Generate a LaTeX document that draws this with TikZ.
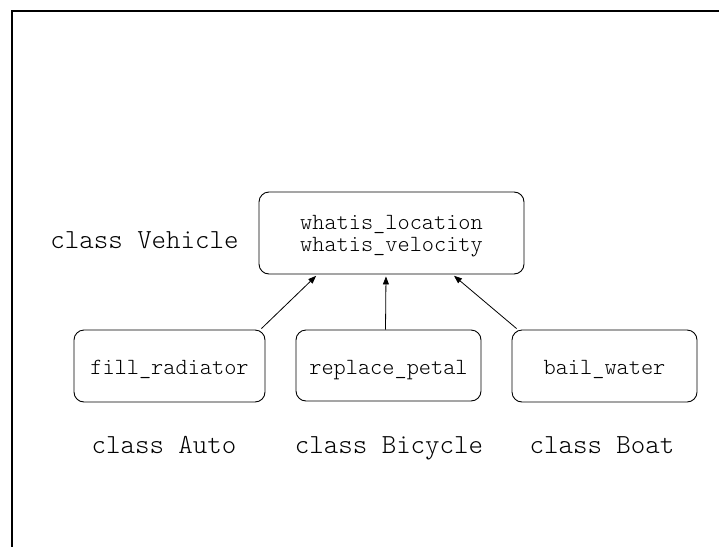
\documentclass[tikz,border=0pt]{standalone}
\usepackage{fontspec}
\setmonofont{Latin Modern Mono Light}
\usetikzlibrary{arrows.meta,calc}
\tikzset{
  method/.style={draw, line width=0.9pt, rounded corners=10pt, inner sep=0pt,
    font=\ttfamily\fontsize{23.2}{22}\selectfont, align=center},
  oneline/.style={method, text height=17pt, text depth=0pt},
  twoline/.style={method, text height=36.2pt, text depth=0pt},
  classname/.style={font=\ttfamily\fontsize{27.6}{30}\selectfont, inner sep=0pt, anchor=base},
  inherit/.style={line width=0.8pt, -{Triangle[length=8pt,width=6pt]}, shorten >=2pt},
  frame/.style={line width=2pt}
}
\begin{document}
\begin{tikzpicture}[x=1pt,y=-1pt]
  \useasboundingbox (0,0) rectangle (719,546);
  % outer frame
  \coordinate (fb) at (12,547);
  \coordinate (fc) at (12,11);
  \coordinate (fr) at (720,11);
  \draw[frame] (fb) -- (fc) -- (fr);

  % base class
  \node[twoline, minimum width=265pt, minimum height=82pt] (V) at (391.5,233)
    {whatis\_location\\whatis\_velocity};
  \node[classname] (lv) at (144.5,248.5) {class Vehicle};

  % derived classes
  \node[oneline, minimum width=191pt, minimum height=72pt] (A) at (169.5,366) {fill\_radiator};
  \node[oneline, minimum width=185pt, minimum height=71pt] (B) at (388.5,365.5) {replace\_petal};
  \node[oneline, minimum width=185pt, minimum height=72pt] (C) at (604.5,366) {bail\_water};

  \node[classname] (la) at (164,453) {class Auto};
  \node[classname] (lb) at (389,453) {class Bicycle};
  \node[classname] (lc) at (602,453) {class Boat};

  % inheritance arrows
  \draw[inherit] ([xshift=-4pt,yshift=1pt]A.north east) -- ([xshift=59pt]V.south west);
  \draw[inherit] ([xshift=-3pt]B.north) -- ([xshift=-5.5pt]V.south);
  \draw[inherit] ([xshift=5pt,yshift=1pt]C.north west) -- ([xshift=-72pt]V.south east);
\end{tikzpicture}
\end{document}
